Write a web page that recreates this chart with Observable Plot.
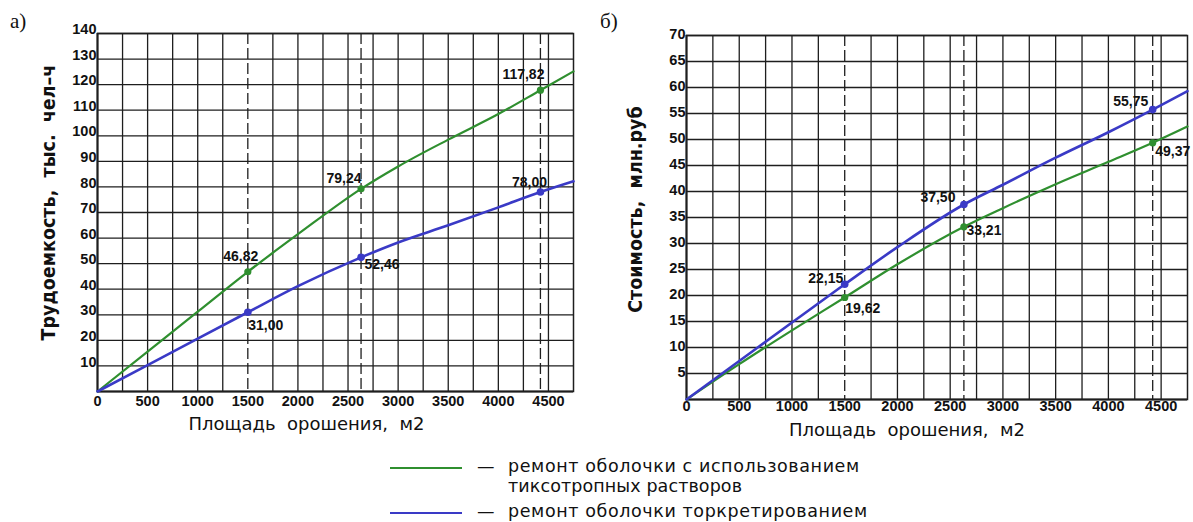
<!DOCTYPE html>
<html><head><meta charset="utf-8">
<script src="https://cdn.jsdelivr.net/npm/d3@7"></script>
<script src="https://cdn.jsdelivr.net/npm/@observablehq/plot@0.6"></script>
<style>
body{margin:0;background:#fff;}
#wrap{position:relative;width:1193px;height:522px;overflow:hidden;background:#fff;}
#left{position:absolute;left:0;top:0;}
#right{position:absolute;left:596px;top:0;}
.panel{position:absolute;font-family:"Liberation Serif",serif;font-size:21px;color:#111;}
.leg{position:absolute;font-family:"DejaVu Sans",sans-serif;font-size:17.5px;color:#111;line-height:1;white-space:nowrap;letter-spacing:0.6px;}
.sw{position:absolute;height:2px;}
</style></head><body>
<div id="wrap">
  <div id="left"></div>
  <div id="right"></div>
  <div class="panel" style="left:10px;top:9px">а)</div>
  <div class="panel" style="left:600px;top:9px">б)</div>
  <div class="sw" style="left:390px;top:467px;width:72px;background:#2f8f2f"></div>
  <div class="leg" style="left:477px;top:458px;letter-spacing:0">—</div>
  <div class="leg" style="left:508px;top:458px">ремонт оболочки с использованием</div>
  <div class="leg" style="left:508px;top:478px;letter-spacing:0.1px">тиксотропных растворов</div>
  <div class="sw" style="left:390px;top:512px;width:72px;background:#3a3ac6"></div>
  <div class="leg" style="left:477px;top:503px;letter-spacing:0">—</div>
  <div class="leg" style="left:508px;top:503px">ремонт оболочки торкретированием</div>
</div>
<script>
// ---- data ----
const xArea      = [0, 500, 1000, 1500, 2000, 2630, 3000, 3500, 4000, 4420, 4750];
const laborThix  = [0, 15.6, 31.2, 46.82, 61.5, 79.24, 88, 98.5, 108.5, 117.82, 125.2];
const laborShot  = [0, 10.3, 20.7, 31.00, 41.2, 52.46, 58.3, 65, 72, 78.00, 82.2];
const costThix   = [0, 6.8, 13.3, 19.62, 26, 33.21, 36.8, 41.4, 45.7, 49.37, 52.5];
const costShot   = [0, 7.4, 14.8, 22.15, 29.3, 37.50, 41.3, 46.5, 51.4, 55.75, 59.3];

const markedArea      = [1500, 2630, 4420];
const laborThixMarked = [46.82, 79.24, 117.82];
const laborShotMarked = [31.00, 52.46, 78.00];
const costThixMarked  = [19.62, 33.21, 49.37];
const costShotMarked  = [22.15, 37.50, 55.75];

const xTicks      = [0, 500, 1000, 1500, 2000, 2500, 3000, 3500, 4000, 4500];
const xGrid       = [250, 500, 750, 1000, 1250, 1750, 2000, 2250, 2500, 2750, 3000, 3250, 3500, 3750, 4000, 4250, 4500];
const laborTicks  = [10, 20, 30, 40, 50, 60, 70, 80, 90, 100, 110, 120, 130, 140];
const costTicks   = [5, 10, 15, 20, 25, 30, 35, 40, 45, 50, 55, 60, 65, 70];

const xTitle      = "Площадь  орошения,  м2";
const laborTitle  = "Трудоемкость,  тыс.  чел–ч";
const costTitle   = "Стоимость,  млн.руб";

const GREEN = "#2f8f2f", BLUE = "#3a3ac6", GRID = "#1e1e1e";
const fmt = v => d3.format(".2f")(v).replace(".", ",");

function makePanel(cfg) {
  const thix = xArea.map((x, i) => ({x, y: cfg.thix[i]}));
  const shot = xArea.map((x, i) => ({x, y: cfg.shot[i]}));
  const pThix = markedArea.map((x, i) => ({x, y: cfg.thixM[i], t: fmt(cfg.thixM[i])}));
  const pShot = markedArea.map((x, i) => ({x, y: cfg.shotM[i], t: fmt(cfg.shotM[i])}));
  const labelStyle = {x: "x", y: "y", text: "t", fontWeight: "bold", fontSize: 14,
    fontFamily: "Liberation Sans, Arial, sans-serif", fill: "#111", textAnchor: "middle"};
  const labels = cfg.place.map(p => Plot.text([(p.s === "thix" ? pThix : pShot)[p.i]],
    {...labelStyle, dx: p.dx, dy: p.dy}));
  return Plot.plot({
    width: cfg.width, height: 440,
    marginLeft: cfg.ml, marginRight: cfg.mr, marginTop: cfg.mt, marginBottom: cfg.mb,
    style: {fontFamily: "Liberation Sans, Arial, sans-serif", background: "transparent", overflow: "visible"},
    x: {domain: [0, 4750]},
    y: {domain: [0, cfg.yMax]},
    marks: [
      Plot.ruleX(xGrid, {stroke: GRID, strokeWidth: 1.3}),
      Plot.ruleY(cfg.yTicks, {stroke: GRID, strokeWidth: 1.3}),
      Plot.ruleX(markedArea, {stroke: GRID, strokeWidth: 1.3, strokeDasharray: "11,4"}),
      Plot.frame({stroke: GRID, strokeWidth: 1.5}),
      Plot.ruleX([0], {stroke: GRID, strokeWidth: 2}),
      Plot.ruleY([0], {stroke: GRID, strokeWidth: 2}),
      Plot.axisX(xTicks, {tickSize: 0, tickPadding: cfg.xPad, tickFormat: d => `${d}`, fontWeight: "bold", fontSize: 14.5, label: null, fill: "#111"}),
      Plot.axisY(cfg.yTicks, {tickSize: 0, tickPadding: 1, dy: cfg.yDy, tickFormat: d => `${d}`, fontWeight: "bold", fontSize: 14.5, label: null, fill: "#111"}),
      Plot.text([xTitle], {frameAnchor: "bottom", textAnchor: "middle", lineAnchor: "middle", dx: cfg.xtDx, dy: cfg.xtDy, fontSize: 18,
        fontFamily: "DejaVu Sans, sans-serif", fill: "#111"}),
      Plot.text([cfg.yTitle], {frameAnchor: "left", textAnchor: "middle", lineAnchor: "middle", rotate: -90, dx: cfg.ytDx, dy: cfg.ytDy, fontSize: 19.5,
        fontWeight: "bold", fontFamily: "DejaVu Sans Condensed, DejaVu Sans, sans-serif", fill: "#111"}),
      Plot.line(thix, {x: "x", y: "y", stroke: GREEN, strokeWidth: 2.2, curve: "monotone-x"}),
      Plot.line(shot, {x: "x", y: "y", stroke: BLUE, strokeWidth: 2.6, curve: "monotone-x"}),
      Plot.dot(pThix, {x: "x", y: "y", r: 3.6, fill: GREEN}),
      Plot.dot(pShot, {x: "x", y: "y", r: 3.8, fill: BLUE}),
      ...labels
    ]
  });
}

const left = makePanel({
  width: 596, ml: 97, mr: 23, mt: 33, mb: 49, yMax: 140, yTicks: laborTicks, yDy: -4, xPad: 4,
  thix: laborThix, shot: laborShot, thixM: laborThixMarked, shotM: laborShotMarked,
  yTitle: laborTitle, xtDx: -29, xtDy: 33, ytDx: -49, ytDy: -10,
  place: [
    {s: "thix", i: 0, dx: -7, dy: -15}, {s: "thix", i: 1, dx: -17, dy: -10}, {s: "thix", i: 2, dx: -17, dy: -16},
    {s: "shot", i: 0, dx: 18, dy: 13}, {s: "shot", i: 1, dx: 21, dy: 7}, {s: "shot", i: 2, dx: -11, dy: -10}
  ]
});
const right = makePanel({
  width: 597, ml: 90, mr: 6, mt: 35, mb: 41, yMax: 70, yTicks: costTicks, yDy: -1, xPad: 1,
  thix: costThix, shot: costShot, thixM: costThixMarked, shotM: costShotMarked,
  yTitle: costTitle, xtDx: -30, xtDy: 31, ytDx: -51, ytDy: -8,
  place: [
    {s: "shot", i: 0, dx: -19, dy: -6}, {s: "thix", i: 0, dx: 18, dy: 11},
    {s: "shot", i: 1, dx: -26, dy: -7}, {s: "thix", i: 1, dx: 20, dy: 4},
    {s: "shot", i: 2, dx: -22, dy: -8}, {s: "thix", i: 2, dx: 20, dy: 9}
  ]
});
document.getElementById("left").append(left);
document.getElementById("right").append(right);
</script>
</body></html>
